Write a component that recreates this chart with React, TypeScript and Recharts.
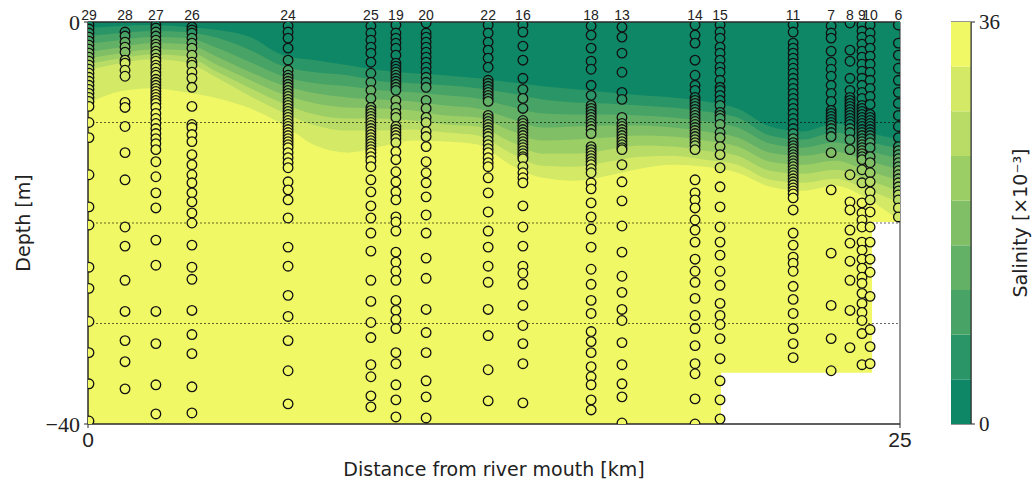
import React from 'react';
import {
  ComposedChart,
  Area,
  Scatter,
  XAxis,
  YAxis,
  ReferenceLine,
  ReferenceArea,
  BarChart,
  Bar,
} from 'recharts';

const sans = 'DejaVu Sans';
const serif = 'Liberation Serif';
const spine = '#2b2b2b';

// colour levels of the salinity field (contourf)
const levels = [0, 4, 8, 12, 16, 20, 24, 28, 32, 36];
const bandColors = [
  '#0e8766',
  '#2a9566',
  '#47a366',
  '#63b166',
  '#80bf66',
  '#9cce66',
  '#b8dc66',
  '#d4ea66',
  '#f1f866',
];

// depth [m] of each isohaline along the section
const kmGrid = [0, 1, 2, 3, 4, 5, 6, 7, 8, 9, 10, 11, 12, 13, 14, 15, 16, 17, 18, 19, 20, 21, 22, 23, 24, 25];
const iso4 = [0.6, 0.4, 0.3, 0.5, 0.8, 1.5, 3.3, 3.8, 4.3, 4.8, 5.1, 5.3, 5.6, 6.0, 6.4, 6.7, 7.0, 7.3, 7.5, 7.9, 8.6, 10.4, 10.9, 10.1, 11.0, 11.7];
const iso8 = [1.4, 1.1, 0.9, 1.0, 1.6, 2.8, 4.4, 5.0, 5.3, 5.9, 6.1, 6.3, 6.6, 7.1, 7.7, 8.0, 8.1, 8.3, 8.5, 8.9, 9.5, 11.3, 11.7, 11.0, 11.9, 12.6];
const iso12 = [2.2, 1.8, 1.5, 1.6, 2.6, 4.0, 5.4, 6.1, 6.4, 6.8, 7.0, 7.3, 7.6, 8.4, 9.1, 9.2, 9.2, 9.3, 9.5, 9.9, 10.5, 12.1, 12.5, 12.0, 12.8, 13.6];
const iso16 = [3.0, 2.5, 2.1, 2.2, 3.5, 5.0, 6.3, 7.1, 7.5, 7.7, 7.9, 8.3, 8.6, 9.6, 10.5, 10.4, 10.3, 10.3, 10.5, 10.9, 11.5, 13.0, 13.3, 12.9, 13.8, 14.7];
const iso20 = [3.6, 3.1, 2.7, 2.8, 4.3, 5.8, 7.2, 8.1, 8.5, 8.6, 8.8, 9.3, 9.5, 10.8, 11.8, 11.7, 11.5, 11.3, 11.4, 11.8, 12.4, 13.9, 14.2, 13.8, 14.8, 15.8];
const iso24 = [4.2, 3.6, 3.2, 3.4, 5.0, 6.6, 8.1, 9.2, 9.6, 9.6, 9.8, 10.2, 10.4, 11.9, 13.1, 13.1, 12.7, 12.3, 12.4, 12.8, 13.3, 14.8, 15.1, 14.7, 15.7, 16.9];
const iso28 = [4.8, 4.1, 3.7, 4.0, 5.6, 7.4, 9.0, 10.3, 10.8, 10.8, 10.7, 11.0, 11.3, 13.0, 14.3, 14.4, 13.9, 13.4, 13.3, 13.7, 14.2, 15.7, 16.0, 15.6, 16.7, 18.0];
const iso32 = [8.1, 6.9, 6.6, 7.0, 7.6, 8.6, 10.2, 12.3, 13.0, 12.4, 11.8, 11.9, 12.2, 14.2, 15.5, 15.8, 15.3, 14.6, 14.2, 14.4, 15.0, 16.4, 16.8, 16.3, 17.6, 19.8];
const isolines = [iso4, iso8, iso12, iso16, iso20, iso24, iso28, iso32];

// sea bed / extent of the sampled section
const bottomKm = [0, 19.49, 19.49, 24.14, 24.14, 25];
const bottomDepth = [40, 40, 34.9, 34.9, 19.9, 19.9];

// CTD stations
const stationNames = ['29', '28', '27', '26', '24', '25', '19', '20', '22', '16', '18', '13', '14', '15', '11', '7', '8', '9', '10', '6'];
const stationKm = [0.03, 1.14, 2.09, 3.2, 6.16, 8.71, 9.48, 10.41, 12.32, 13.39, 15.49, 16.44, 18.69, 19.46, 21.71, 22.88, 23.46, 23.83, 24.08, 24.95];

const d29 = [0.3, 0.7, 1.1, 1.5, 1.9, 2.3, 2.7, 3.1, 3.5, 3.9, 4.3, 4.7, 5.1, 5.5, 5.9, 6.3, 6.7, 7.1, 7.5, 7.9, 8.4, 10.0, 11.5, 15.2, 18.4, 20.2, 24.4, 26.5, 29.8, 32.9, 36.0, 39.7];
const d28 = [1.0, 1.4, 2.0, 2.5, 3.0, 3.8, 4.1, 4.8, 5.4, 8.0, 8.5, 10.4, 13.0, 15.7, 20.4, 22.3, 25.7, 28.8, 31.7, 33.8, 36.5];
const d27 = [0.3, 0.6, 1.0, 1.4, 1.8, 2.2, 2.5, 2.9, 3.2, 3.6, 3.9, 4.3, 4.6, 5.0, 5.3, 5.7, 6.0, 6.3, 6.6, 6.9, 7.2, 7.5, 7.8, 8.1, 8.5, 9.1, 9.6, 10.1, 10.6, 11.1, 11.6, 12.1, 12.7, 13.9, 15.4, 17.0, 18.5, 21.7, 24.2, 28.8, 32.0, 36.1, 39.0];
const d26 = [0.5, 0.8, 1.1, 1.6, 2.1, 2.6, 3.3, 4.0, 4.3, 5.0, 5.6, 6.5, 8.4, 10.2, 10.5, 11.2, 11.9, 13.2, 14.2, 15.2, 16.0, 17.0, 17.9, 19.0, 20.0, 22.2, 24.4, 25.6, 28.7, 31.1, 33.0, 36.3, 38.9];
const d24 = [0.4, 1.0, 1.6, 2.6, 3.8, 4.8, 5.3, 5.6, 5.9, 6.2, 6.5, 6.8, 7.1, 7.4, 7.7, 8.0, 8.3, 8.6, 8.9, 9.2, 9.5, 9.8, 10.1, 10.4, 10.7, 11.0, 11.3, 11.6, 11.9, 12.2, 12.5, 13.0, 13.5, 14.0, 14.5, 15.9, 16.7, 17.7, 19.5, 22.4, 24.3, 27.2, 29.3, 31.7, 34.7, 38.0];
const d25 = [0.4, 1.1, 1.8, 2.5, 3.1, 4.0, 5.1, 6.0, 6.8, 7.6, 8.5, 8.8, 9.1, 9.4, 9.7, 10.0, 10.3, 10.6, 10.9, 11.2, 11.5, 11.8, 12.1, 12.4, 12.7, 13.0, 13.4, 13.8, 14.4, 15.7, 16.9, 18.3, 19.5, 21.0, 22.8, 25.7, 27.8, 29.9, 31.4, 34.1, 35.3, 37.2, 38.3];
const d19 = [0.3, 1.1, 1.6, 2.1, 2.6, 3.3, 4.1, 4.4, 4.7, 5.0, 5.3, 5.6, 5.9, 6.2, 6.5, 6.8, 7.8, 8.5, 9.1, 9.5, 10.4, 10.7, 11.0, 11.3, 11.6, 12.0, 12.9, 13.7, 14.9, 15.9, 16.9, 17.7, 19.4, 19.9, 20.8, 22.9, 23.9, 24.8, 25.7, 27.7, 28.7, 29.6, 30.5, 32.9, 34.0, 36.1, 37.6, 39.3];
const d20 = [0.1, 1.1, 1.5, 2.0, 2.5, 3.0, 3.5, 4.0, 4.5, 5.0, 5.5, 6.0, 6.5, 7.8, 8.6, 9.5, 10.0, 10.9, 11.4, 12.4, 13.9, 15.0, 16.0, 17.4, 19.2, 21.0, 23.5, 25.5, 28.6, 30.9, 32.9, 35.7, 37.3, 39.4];
const d22 = [0.3, 1.1, 2.0, 2.8, 3.6, 4.5, 5.8, 6.1, 6.4, 6.7, 7.0, 7.3, 7.6, 7.9, 9.3, 9.6, 9.9, 10.2, 10.5, 10.8, 11.1, 11.4, 11.8, 12.2, 12.6, 13.0, 13.5, 14.0, 14.4, 15.5, 17.0, 18.9, 20.8, 22.4, 24.3, 25.9, 28.6, 31.2, 34.6, 37.7];
const d16 = [0.3, 1.0, 2.4, 3.8, 5.6, 6.7, 7.6, 8.6, 9.8, 10.1, 10.4, 10.7, 11.0, 11.3, 11.6, 11.9, 12.2, 12.5, 12.8, 13.1, 13.4, 13.6, 14.4, 15.0, 15.5, 16.0, 18.3, 20.4, 22.3, 24.3, 25.0, 26.1, 28.2, 30.2, 32.0, 34.0, 37.9];
const d18 = [0.4, 1.3, 2.6, 3.9, 4.7, 6.3, 7.3, 8.3, 8.6, 8.9, 9.2, 9.5, 9.8, 10.1, 10.4, 10.7, 11.1, 12.4, 12.7, 13.0, 13.3, 13.6, 13.9, 14.2, 14.6, 15.0, 16.0, 16.6, 18.0, 19.4, 20.6, 22.4, 24.6, 26.1, 27.7, 29.0, 30.8, 31.8, 32.9, 34.3, 35.3, 36.1, 37.6, 38.6];
const d13 = [0.5, 1.5, 3.1, 5.0, 7.0, 7.7, 9.5, 10.1, 10.4, 10.7, 11.0, 11.3, 11.6, 11.9, 12.2, 12.5, 12.7, 14.2, 15.9, 17.8, 20.3, 22.9, 25.3, 26.9, 28.6, 29.7, 31.9, 34.1, 36.0, 37.3, 39.9];
const d14 = [0.3, 1.3, 2.1, 3.8, 5.3, 6.3, 6.8, 7.5, 7.8, 8.1, 8.4, 8.7, 9.0, 9.3, 9.6, 9.9, 10.2, 10.5, 10.8, 11.1, 11.4, 11.7, 12.0, 12.3, 12.7, 15.7, 17.0, 17.7, 18.5, 19.7, 20.7, 21.9, 23.6, 24.8, 25.9, 27.5, 29.2, 30.5, 32.2, 34.0, 35.0, 37.5, 40.0];
const d15 = [0.3, 1.0, 1.6, 2.5, 3.1, 3.8, 4.5, 5.0, 5.8, 6.5, 6.8, 7.3, 7.8, 8.3, 9.0, 9.3, 9.6, 10.2, 11.0, 11.5, 12.4, 13.2, 14.5, 16.4, 18.4, 20.4, 21.9, 23.2, 24.8, 26.2, 28.0, 29.2, 30.1, 31.5, 33.5, 35.7, 37.6, 39.5];
const d11 = [0.3, 1.0, 2.1, 2.6, 3.1, 3.6, 4.1, 4.6, 5.1, 5.6, 6.1, 6.6, 7.1, 7.6, 8.1, 8.6, 9.1, 9.6, 10.1, 10.6, 11.1, 11.6, 12.0, 12.3, 12.6, 12.9, 13.2, 13.5, 13.8, 14.1, 14.4, 14.7, 15.0, 15.3, 15.6, 15.9, 16.2, 16.5, 16.8, 17.1, 17.5, 18.7, 21.0, 22.2, 23.4, 24.0, 24.8, 26.3, 27.6, 29.0, 30.5, 32.0, 33.4];
const d7 = [0.4, 1.1, 1.6, 2.9, 4.0, 4.7, 5.4, 6.3, 7.1, 7.9, 8.8, 9.1, 9.4, 9.7, 10.0, 10.3, 10.6, 11.0, 11.4, 13.0, 16.7, 23.0, 28.2, 31.5, 34.7];
const d8 = [0.1, 2.8, 3.9, 5.6, 6.8, 7.5, 7.8, 8.1, 8.4, 8.7, 9.0, 9.3, 9.6, 9.9, 10.2, 10.6, 11.0, 11.7, 12.7, 15.2, 17.9, 18.7, 20.7, 22.0, 23.8, 25.7, 28.7, 32.4];
const d9 = [0.3, 0.9, 1.5, 2.2, 2.9, 3.5, 4.2, 4.9, 5.6, 6.3, 7.0, 7.6, 8.3, 8.6, 8.9, 9.2, 9.5, 9.8, 10.1, 10.4, 10.7, 11.0, 11.3, 11.6, 11.9, 12.2, 12.5, 12.8, 13.1, 13.4, 13.7, 14.7, 16.0, 18.0, 19.0, 19.7, 20.4, 21.9, 22.7, 23.6, 24.5, 25.4, 26.0, 27.0, 28.0, 28.9, 29.7, 31.0, 34.1];
const d10 = [0.3, 1.1, 1.8, 2.6, 3.4, 4.2, 5.0, 5.8, 6.6, 7.4, 8.2, 9.2, 9.5, 9.8, 10.1, 10.4, 10.7, 11.0, 11.3, 11.6, 12.0, 12.5, 13.4, 14.0, 15.0, 15.9, 16.9, 17.7, 18.9, 20.4, 21.9, 23.6, 24.9, 27.3, 30.6, 32.3, 34.0];
const d6 = [0.3, 2.1, 3.3, 4.6, 5.8, 7.0, 8.1, 9.3, 10.4, 11.5, 12.4, 12.8, 13.2, 13.6, 14.0, 14.4, 14.8, 15.2, 15.6, 16.0, 16.4, 16.8, 17.2, 17.7, 18.5, 19.4];
const stationDepths = [d29, d28, d27, d26, d24, d25, d19, d20, d22, d16, d18, d13, d14, d15, d11, d7, d8, d9, d10, d6];

const dashedDepths = [-10, -20, -30];

const contourRows = kmGrid.map((km, i) => ({ km, iso: isolines.map((l) => l[i]) }));
const bottomRows = bottomKm.map((km, i) => ({ km, depth: bottomDepth[i] }));
const stationRows = stationKm.map((km) => ({ km, v: 0.5 }));

const isoAt = (iso: number[], km: number) => {
  for (let i = 0; i < kmGrid.length - 1; i++) {
    if (km <= kmGrid[i + 1]) {
      const t = (km - kmGrid[i]) / (kmGrid[i + 1] - kmGrid[i]);
      return iso[i] + t * (iso[i + 1] - iso[i]);
    }
  }
  return iso[iso.length - 1];
};

const pointColor = (km: number, depth: number) => {
  let band = 0;
  isolines.forEach((iso) => {
    if (depth > isoAt(iso, km)) band += 1;
  });
  return bandColors[band];
};

const points = stationKm.flatMap((km, i) =>
  stationDepths[i].map((d) => ({ km, y: -d, color: pointColor(km, d) }))
);

const colorbarRow: Record<string, number | string> = { name: 'S' };
bandColors.forEach((_, i) => {
  colorbarRow[`b${i}`] = levels[i + 1] - levels[i];
});

// range accessors, safe for rows that belong to other series
const isoRange = (k: number) => (r: any) => (r && r.iso ? [-r.iso[k], 0] : null);
const bottomRange = (r: any) => (r && r.depth != null ? [-r.depth, 0] : null);

const Dot = (props: any) => {
  const { cx, cy, payload } = props;
  if (cx == null || cy == null || !payload) return null;
  return <circle cx={cx} cy={cy} r={4.8} fill={payload.color} stroke="#111" strokeWidth={1.3} />;
};

const App = () => {
  return (
    <div style={{ position: 'absolute', left: 0, top: 0, width: 1033, height: 486, background: '#fff' }}>
      <ComposedChart
        width={1033}
        height={486}
        data={contourRows}
        margin={{ top: 2, right: 133, bottom: 0, left: 0 }}
      >
        <XAxis
          dataKey="km"
          type="number"
          domain={[0, 25]}
          ticks={[0, 25]}
          allowDataOverflow
          height={62}
          tickSize={4}
          tickMargin={4}
          stroke={spine}
          tick={{ fill: '#222', fontSize: 21, fontFamily: 'Liberation Sans' }}
          label={{
            value: 'Distance from river mouth [km]',
            position: 'insideBottom',
            offset: 10,
            fontSize: 19,
            fontFamily: sans,
            fill: '#222',
          }}
        />
        <XAxis
          xAxisId="top"
          dataKey="km"
          orientation="top"
          type="number"
          domain={[0, 25]}
          allowDataOverflow
          ticks={stationKm}
          interval={0}
          height={20}
          tickLine={false}
          tickSize={0}
          tickMargin={2}
          stroke={spine}
          tickFormatter={(v: number, i: number) => stationNames[i]}
          tick={{ fill: '#222', fontSize: 14, fontFamily: 'Liberation Sans' }}
        />
        <YAxis
          type="number"
          domain={[-40, 0]}
          ticks={[-40, 0]}
          allowDataOverflow
          width={88}
          tickSize={4}
          tickMargin={4}
          stroke={spine}
          tickFormatter={(v: number) => (v < 0 ? `\u2212${Math.abs(v)}` : `${v}`)}
          tick={{ fill: '#222', fontSize: 22, fontFamily: serif }}
          label={{
            value: 'Depth [m]',
            angle: -90,
            position: 'insideLeft',
            offset: 23,
            style: { textAnchor: 'middle' },
            fontSize: 19,
            fontFamily: sans,
            fill: '#222',
          }}
        />
        <YAxis
          yAxisId="right"
          orientation="right"
          type="number"
          domain={[0, 1]}
          allowDataOverflow
          width={0}
          tick={false}
          tickLine={false}
          stroke={spine}
        />

        <Area
          data={bottomRows}
          dataKey={bottomRange}
          type="linear"
          fill={bandColors[8]}
          fillOpacity={1}
          stroke="none"
          dot={false}
          activeDot={false}
          isAnimationActive={false}
        />
        {isolines
          .map((_, k) => k)
          .reverse()
          .map((k) => (
            <Area
              key={`iso${k}`}
              dataKey={isoRange(k)}
              type="monotone"
              fill={bandColors[k]}
              fillOpacity={1}
              stroke="none"
              dot={false}
              activeDot={false}
              isAnimationActive={false}
            />
          ))}
        {dashedDepths.map((y) => (
          <ReferenceLine key={y} y={y} stroke="#000" strokeWidth={0.6} strokeDasharray="2 2" />
        ))}
        <Scatter data={points} dataKey="y" shape={Dot} isAnimationActive={false} />
        {/* ties the station axis and the right spine to the chart */}
        <Scatter
          xAxisId="top"
          yAxisId="right"
          data={stationRows}
          dataKey="v"
          shape={() => <g />}
          isAnimationActive={false}
        />
        <ReferenceArea x1={0} x2={25} y1={-40} y2={0} fill="none" stroke={spine} strokeWidth={1} />
      </ComposedChart>

      <div style={{ position: 'absolute', left: 951, top: 0 }}>
        <BarChart
          width={82}
          height={486}
          data={[colorbarRow]}
          margin={{ top: 22, right: 0, bottom: 62, left: 0 }}
          barCategoryGap={0}
        >
          <XAxis dataKey="name" hide />
          <YAxis
            orientation="right"
            type="number"
            domain={[0, 36]}
            ticks={[0, 36]}
            width={62}
            tickSize={4}
            tickMargin={4}
            stroke={spine}
            tick={{ fill: '#222', fontSize: 21, fontFamily: serif }}
            label={{
              value: 'Salinity [\u00d710\u207b\u00b3]',
              angle: -90,
              position: 'insideRight',
              offset: 13,
              style: { textAnchor: 'middle' },
              fontSize: 19,
              fontFamily: sans,
              fill: '#222',
            }}
          />
          {bandColors.map((c, i) => (
            <Bar key={c} dataKey={`b${i}`} stackId="cb" fill={c} isAnimationActive={false} />
          ))}
          <ReferenceArea y1={0} y2={36} fill="none" stroke={spine} strokeWidth={1} />
        </BarChart>
      </div>
    </div>
  );
};

export default App;
